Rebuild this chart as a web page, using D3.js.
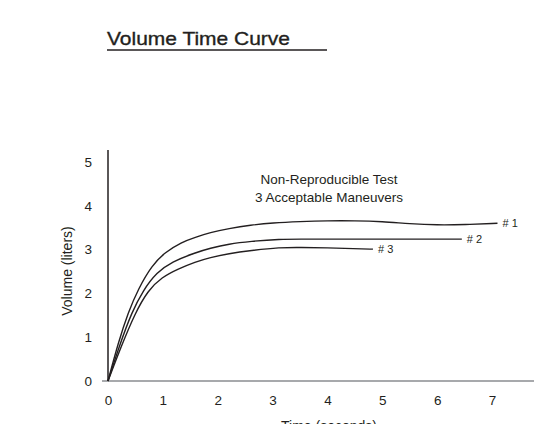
<!DOCTYPE html>
<html>
<head>
<meta charset="utf-8">
<script src="https://cdn.jsdelivr.net/npm/d3@7"></script>
<style>
  body { margin: 0; background: #fff; }
  svg { display: block; font-family: "Liberation Sans", Arial, sans-serif; }
</style>
</head>
<body>
<svg width="534" height="424"></svg>
<script>
// values
const xTicks = [0, 1, 2, 3, 4, 5, 6, 7];
const yTicks = [0, 1, 2, 3, 4, 5];

const time1 = [0, 0.19, 0.37, 0.55, 0.8, 1.04, 1.34, 1.59, 1.86, 2.2, 2.6, 3.0, 3.5, 4.0, 4.5, 5.0, 5.5, 6.0, 6.5, 7.1];
const vol1  = [0, 0.89, 1.57, 2.1, 2.64, 2.94, 3.17, 3.28, 3.39, 3.48, 3.56, 3.61, 3.64, 3.66, 3.66, 3.64, 3.59, 3.56, 3.57, 3.6];

const time2 = [0, 0.22, 0.43, 0.64, 0.89, 1.16, 1.59, 1.86, 2.2, 2.6, 3.14, 3.5, 4.0, 5.0, 6.0, 6.45];
const vol2  = [0, 0.85, 1.56, 2.07, 2.48, 2.72, 2.93, 3.03, 3.13, 3.19, 3.24, 3.24, 3.24, 3.24, 3.24, 3.24];

const time3 = [0, 0.25, 0.49, 0.73, 0.98, 1.28, 1.59, 1.86, 2.2, 2.6, 3.14, 3.5, 4.0, 4.5, 4.83];
const vol3  = [0, 0.82, 1.54, 2.07, 2.37, 2.56, 2.72, 2.82, 2.91, 2.98, 3.05, 3.05, 3.04, 3.02, 3.01];

const curveNames = ["# 1", "# 2", "# 3"];

const svg = d3.select("svg");

const x = d3.scaleLinear().domain([0, 7]).range([108, 492]);
const y = d3.scaleLinear().domain([0, 5]).range([381, 162]);

// title
svg.append("text")
    .attr("x", 107)
    .attr("y", 45)
    .attr("font-size", "19px")
    .attr("textLength", 183)
    .attr("lengthAdjust", "spacingAndGlyphs")
    .attr("fill", "#231f20")
    .attr("stroke", "#231f20")
    .attr("stroke-width", 0.35)
    .text("Volume Time Curve");
svg.append("line")
    .attr("x1", 107).attr("x2", 327)
    .attr("y1", 50).attr("y2", 50)
    .attr("stroke", "#231f20")
    .attr("stroke-width", 1.4);

// x axis
svg.append("line")
    .attr("x1", 102).attr("x2", 534)
    .attr("y1", y(0)).attr("y2", y(0))
    .attr("stroke", "#a7a9ac")
    .attr("stroke-width", 2);

const xAxis = svg.append("g")
    .attr("transform", `translate(0, ${y(0)})`)
    .call(d3.axisBottom(x).tickValues(xTicks).tickFormat(d3.format("d")).tickSize(0).tickPadding(14));
xAxis.select(".domain").remove();
xAxis.selectAll("text")
    .attr("font-size", "13.5px")
    .attr("font-family", "'Liberation Sans', Arial, sans-serif")
    .attr("fill", "#231f20");

// y axis
svg.append("line")
    .attr("x1", x(0)).attr("x2", x(0))
    .attr("y1", 150).attr("y2", y(0))
    .attr("stroke", "#231f20")
    .attr("stroke-width", 1.5);

const yAxis = svg.append("g")
    .attr("transform", `translate(${x(0)}, 0)`)
    .call(d3.axisLeft(y).tickValues(yTicks).tickFormat(d3.format("d")).tickSize(0).tickPadding(16));
yAxis.select(".domain").remove();
yAxis.selectAll("text")
    .attr("font-size", "13.5px")
    .attr("font-family", "'Liberation Sans', Arial, sans-serif")
    .attr("fill", "#231f20");

// axis titles
svg.append("text")
    .attr("transform", "translate(72, 271) rotate(-90)")
    .attr("text-anchor", "middle")
    .attr("font-size", "14px")
    .attr("fill", "#231f20")
    .text("Volume (liters)");

svg.append("text")
    .attr("x", 329)
    .attr("y", 431)
    .attr("text-anchor", "middle")
    .attr("font-size", "14px")
    .attr("fill", "#231f20")
    .text("Time (seconds)");

// annotation
svg.append("text")
    .attr("x", 329).attr("y", 184)
    .attr("text-anchor", "middle")
    .attr("font-size", "13.5px")
    .attr("fill", "#231f20")
    .text("Non-Reproducible Test");
svg.append("text")
    .attr("x", 329).attr("y", 201.5)
    .attr("text-anchor", "middle")
    .attr("font-size", "13.5px")
    .attr("fill", "#231f20")
    .text("3 Acceptable Maneuvers");

// curves
const series = [
    { name: curveNames[0], t: time1, v: vol1 },
    { name: curveNames[1], t: time2, v: vol2 },
    { name: curveNames[2], t: time3, v: vol3 }
];

const line = d3.line()
    .x(d => x(d[0]))
    .y(d => y(d[1]))
    .curve(d3.curveBasis);

series.forEach(s => {
    const pts = s.t.map((t, i) => [t, s.v[i]]);
    svg.append("path")
        .datum(pts)
        .attr("d", line)
        .attr("fill", "none")
        .attr("stroke", "#231f20")
        .attr("stroke-width", 1.4);

    const last = pts[pts.length - 1];
    svg.append("text")
        .attr("x", x(last[0]) + 5)
        .attr("y", y(last[1]) + 4)
        .attr("font-size", "11px")
        .attr("fill", "#231f20")
        .text(s.name);
});
</script>
</body>
</html>
